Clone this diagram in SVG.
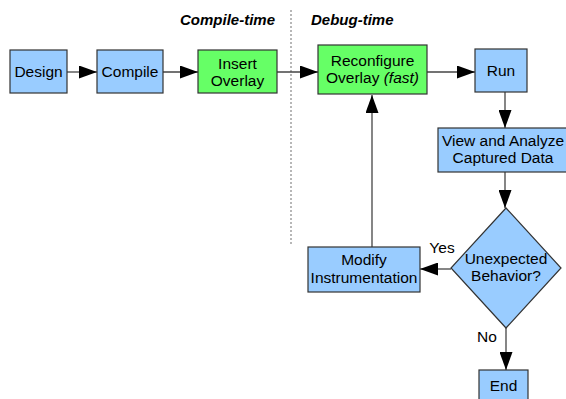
<svg xmlns="http://www.w3.org/2000/svg" width="566" height="399" viewBox="0 0 566 399">
<defs>
<style>
text{font-family:"Liberation Sans",Arial,sans-serif;font-size:15.5px;fill:#000;text-anchor:middle}
.hdr{font-size:15px;font-weight:bold;font-style:italic;text-anchor:start}
.blue{fill:#99ccff;stroke:#333;stroke-width:1.2}
.green{fill:#66ff66;stroke:#333;stroke-width:1.2}
.ln{stroke:#444;stroke-width:1.3;fill:none}
</style>
<marker id="ah" viewBox="0 0 18 13" refX="18" refY="6.5" markerWidth="18" markerHeight="13" markerUnits="userSpaceOnUse" orient="auto">
<path d="M0,0 L18,6.5 L0,13 Z" fill="#000"/>
</marker>
</defs>
<rect width="566" height="399" fill="#fff"/>
<line x1="291" y1="10" x2="291" y2="246" stroke="#888" stroke-width="1.2" stroke-dasharray="2,2"/>
<text class="hdr" x="180" y="25">Compile-time</text>
<text class="hdr" x="311" y="25">Debug-time</text>
<g id="connectors">
<line class="ln" x1="67" y1="72" x2="97" y2="72" marker-end="url(#ah)"/>
<line class="ln" x1="163" y1="72" x2="198" y2="72" marker-end="url(#ah)"/>
<line class="ln" x1="277" y1="72" x2="318" y2="72" marker-end="url(#ah)"/>
<line class="ln" x1="427" y1="72" x2="475" y2="72" marker-end="url(#ah)"/>
<line class="ln" x1="505" y1="92" x2="505" y2="128" marker-end="url(#ah)"/>
<line class="ln" x1="505" y1="172" x2="505" y2="208" marker-end="url(#ah)"/>
<line class="ln" x1="451" y1="269" x2="420" y2="269" marker-end="url(#ah)"/>
<line class="ln" x1="372" y1="247" x2="372" y2="95" marker-end="url(#ah)"/>
<line class="ln" x1="506" y1="328" x2="506" y2="370" marker-end="url(#ah)"/>
<text x="442" y="253">Yes</text>
<text x="487" y="342">No</text>
</g>
<g id="design"><rect class="blue" x="10" y="50" width="57" height="43"/><text x="38.5" y="77">Design</text></g>
<g id="compile"><rect class="blue" x="97" y="50" width="66" height="43"/><text x="130" y="77">Compile</text></g>
<g id="insert"><rect class="green" x="198" y="50" width="79" height="43"/><text x="237.5" y="69">Insert</text><text x="237.5" y="86">Overlay</text></g>
<g id="reconfigure"><rect class="green" x="318" y="45" width="109" height="49"/><text x="372.5" y="66">Reconfigure</text><text x="372.5" y="83">Overlay <tspan font-style="italic">(fast)</tspan></text></g>
<g id="run"><rect class="blue" x="475" y="49" width="52" height="43"/><text x="501" y="76">Run</text></g>
<g id="view"><rect class="blue" x="438" y="128" width="140" height="44"/><text x="503" y="146">View and Analyze</text><text x="503" y="163">Captured Data</text></g>
<g id="decision"><polygon class="blue" points="506,208 561,268 506,328 451,268"/><text x="506" y="264">Unexpected</text><text x="506" y="281">Behavior?</text></g>
<g id="modify"><rect class="blue" x="308" y="247" width="112" height="45"/><text x="364" y="265">Modify</text><text x="364" y="283">Instrumentation</text></g>
<g id="end"><rect class="blue" x="479" y="370" width="49" height="40"/><text x="503.5" y="391">End</text></g>
</svg>
